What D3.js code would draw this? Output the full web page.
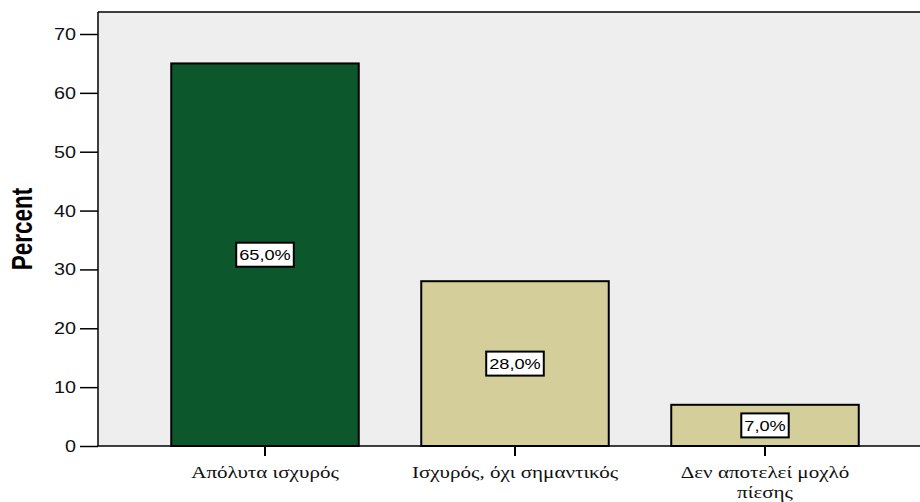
<!DOCTYPE html>
<html>
<head>
<meta charset="utf-8">
<script src="https://cdn.jsdelivr.net/npm/d3@7"></script>
<style>
  html, body { margin: 0; padding: 0; background: #fff; }
  svg { display: block; }
</style>
</head>
<body>
<svg id="chart" width="920" height="502"></svg>
<script>
// Categories and their percentages
const categories = ["Απόλυτα ισχυρός", "Ισχυρός, όχι σημαντικός", "Δεν αποτελεί μοχλό πίεσης"];
const categoryLines = [["Απόλυτα ισχυρός"], ["Ισχυρός, όχι σημαντικός"], ["Δεν αποτελεί μοχλό", "πίεσης"]];
const percentValues = [65.0, 28.0, 7.0];
const valueLabels = ["65,0%", "28,0%", "7,0%"];
const yTicks = [0, 10, 20, 30, 40, 50, 60, 70];
const barColors = ["#0d572d", "#d4cf9a", "#d4cf9a"];

const svg = d3.select("#chart");
const plot = { left: 98, right: 920, top: 12, bottom: 446 };
const SANS = "Liberation Sans, Arial, sans-serif";
const SERIF = "Liberation Serif, Times New Roman, serif";
const WIDE = 1.24; // horizontal widening of all lettering

const y = d3.scaleLinear().domain([0, 70]).range([plot.bottom, 34]);
const x = d3.scaleBand().domain(categories).range([140, 890]).paddingInner(0.25).paddingOuter(0.125);

// place a text element at (px, py) with widened glyphs
function placeWide(sel, px, py, sx, extra) {
  sel.attr("x", 0).attr("y", 0)
     .attr("transform", `translate(${px},${py}) scale(${sx},1)` + (extra || ""));
  return sel;
}

// Plot background
svg.append("rect")
  .attr("x", plot.left).attr("y", plot.top)
  .attr("width", plot.right - plot.left).attr("height", plot.bottom - plot.top)
  .attr("fill", "#eeeeee");

// Top frame line
svg.append("line")
  .attr("x1", plot.left).attr("x2", plot.right)
  .attr("y1", plot.top).attr("y2", plot.top)
  .attr("stroke", "#000").attr("stroke-width", 1.5);

// Bars
svg.selectAll("rect.bar")
  .data(percentValues)
  .join("rect")
  .attr("class", "bar")
  .attr("x", (d, i) => x(categories[i]))
  .attr("y", d => y(d))
  .attr("width", x.bandwidth())
  .attr("height", d => plot.bottom - y(d))
  .attr("fill", (d, i) => barColors[i])
  .attr("stroke", "#000")
  .attr("stroke-width", 2);

// Y axis
const yAxis = d3.axisLeft(y).tickValues(yTicks).tickSize(18).tickPadding(4).tickFormat(d3.format("d"));
const gy = svg.append("g").attr("transform", `translate(${plot.left},0)`).call(yAxis);
gy.select(".domain").remove();
gy.selectAll(".tick line").attr("stroke", "#000").attr("stroke-width", 1.5);
gy.selectAll(".tick text")
  .attr("font-family", SANS)
  .attr("font-size", 16.5).attr("fill", "#111")
  .attr("dy", null)
  .attr("dominant-baseline", "central")
  .each(function () { placeWide(d3.select(this), -22, 0, 1.2); });
svg.append("line")
  .attr("x1", plot.left).attr("x2", plot.left)
  .attr("y1", plot.top).attr("y2", plot.bottom)
  .attr("stroke", "#000").attr("stroke-width", 1.5);

// X axis
const xAxis = d3.axisBottom(x).tickSize(10).tickFormat("");
const gx = svg.append("g").attr("transform", `translate(0,${plot.bottom})`).call(xAxis);
gx.select(".domain").remove();
gx.selectAll(".tick line").attr("stroke", "#000").attr("stroke-width", 2);
svg.append("line")
  .attr("x1", plot.left).attr("x2", plot.right)
  .attr("y1", plot.bottom).attr("y2", plot.bottom)
  .attr("stroke", "#000").attr("stroke-width", 1.5);

// Category labels (serif, possibly wrapped)
categories.forEach((c, i) => {
  const t = svg.append("text")
    .attr("text-anchor", "middle")
    .attr("font-family", SERIF)
    .attr("font-size", 17).attr("fill", "#111");
  placeWide(t, x(c) + x.bandwidth() / 2, 478, WIDE);
  categoryLines[i].forEach((line, j) => {
    t.append("tspan")
      .attr("x", 0)
      .attr("dy", j === 0 ? 0 : 20)
      .text(line);
  });
});

// Y axis title
const yTitle = svg.append("text")
  .attr("text-anchor", "middle")
  .attr("font-family", SANS)
  .attr("font-weight", "bold")
  .attr("font-size", 22.5)
  .attr("fill", "#000")
  .text("Percent");
placeWide(yTitle, 32, 229, 1.3, " rotate(-90)");

// Value labels in boxes at bar centres
percentValues.forEach((v, i) => {
  const cx = x(categories[i]) + x.bandwidth() / 2;
  const cy = (y(v) + plot.bottom) / 2;
  const g = svg.append("g");
  const txt = g.append("text")
    .attr("text-anchor", "middle")
    .attr("dominant-baseline", "central")
    .attr("font-family", SANS)
    .attr("font-size", 14).attr("fill", "#000")
    .text(valueLabels[i]);
  placeWide(txt, cx, cy + 0.5, 1.3);
  const w = txt.node().getBBox().width * 1.3;
  g.insert("rect", "text")
    .attr("x", cx - w / 2 - 3).attr("y", cy - 12)
    .attr("width", w + 6).attr("height", 24)
    .attr("fill", "#fff").attr("stroke", "#000").attr("stroke-width", 2);
});
</script>
</body>
</html>
